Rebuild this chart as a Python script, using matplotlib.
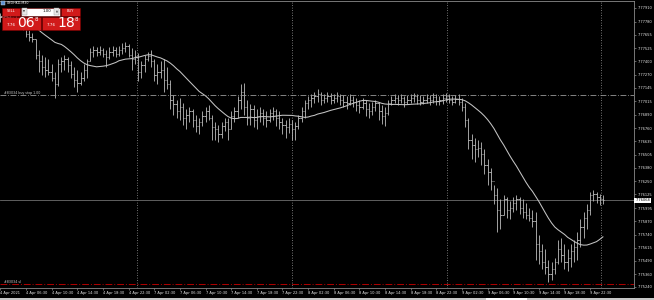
import numpy as np
import pandas as pd
import matplotlib
matplotlib.use("Agg")
import matplotlib.pyplot as plt
from matplotlib.patches import Rectangle

#------------------------------- chart data --------------------------------
symbol = "USDHKD,M30"

highs = [7.7786, 7.7788, 7.7786, 7.7784, 7.7782, 7.7783, 7.7780, 7.7778, 7.7774, 7.7770,
         7.7767, 7.7761, 7.7751, 7.7746, 7.7744, 7.7742, 7.7737, 7.7730, 7.7742, 7.7744,
         7.7746, 7.7744, 7.7740, 7.7734, 7.7732, 7.7730, 7.7737, 7.7742, 7.7753, 7.7755,
         7.7754, 7.7755, 7.7753, 7.7751, 7.7754, 7.7755, 7.7754, 7.7755, 7.7757, 7.7758,
         7.7756, 7.7753, 7.7751, 7.7748, 7.7740, 7.7746, 7.7749, 7.7751, 7.7742, 7.7737,
         7.7740, 7.7742, 7.7734, 7.7722, 7.7708, 7.7703, 7.7705, 7.7700, 7.7694, 7.7696,
         7.7694, 7.7689, 7.7686, 7.7692, 7.7696, 7.7698, 7.7689, 7.7682, 7.7679, 7.7682,
         7.7686, 7.7686, 7.7692, 7.7696, 7.7707, 7.7718, 7.7719, 7.7703, 7.7699, 7.7698,
         7.7694, 7.7696, 7.7694, 7.7692, 7.7694, 7.7696, 7.7694, 7.7692, 7.7686, 7.7684,
         7.7686, 7.7684, 7.7682, 7.7689, 7.7696, 7.7703, 7.7707, 7.7709, 7.7711, 7.7713,
         7.7711, 7.7709, 7.7711, 7.7710, 7.7709, 7.7711, 7.7709, 7.7708, 7.7707, 7.7709,
         7.7707, 7.7705, 7.7703, 7.7705, 7.7703, 7.7700, 7.7701, 7.7703, 7.7701, 7.7698,
         7.7696, 7.7703, 7.7707, 7.7709, 7.7708, 7.7709, 7.7707, 7.7708, 7.7709, 7.7710,
         7.7709, 7.7708, 7.7707, 7.7709, 7.7708, 7.7710, 7.7709, 7.7707, 7.7709, 7.7710,
         7.7709, 7.7707, 7.7708, 7.7709, 7.7705, 7.7700, 7.7686, 7.7670, 7.7667, 7.7665,
         7.7663, 7.7656, 7.7646, 7.7638, 7.7622, 7.7619, 7.7608, 7.7612, 7.7610, 7.7606,
         7.7610, 7.7612, 7.7610, 7.7608, 7.7604, 7.7600, 7.7598, 7.7596, 7.7574, 7.7565,
         7.7560, 7.7550, 7.7548, 7.7552, 7.7569, 7.7571, 7.7565, 7.7560, 7.7565, 7.7569,
         7.7577, 7.7589, 7.7596, 7.7603, 7.7615, 7.7617, 7.7615, 7.7613, 7.7612]

lows = [7.7778, 7.7780, 7.7776, 7.7774, 7.7773, 7.7775, 7.7772, 7.7770, 7.7763, 7.7759,
        7.7758, 7.7742, 7.7730, 7.7727, 7.7725, 7.7727, 7.7721, 7.7705, 7.7716, 7.7730,
        7.7732, 7.7730, 7.7724, 7.7715, 7.7711, 7.7717, 7.7721, 7.7724, 7.7740, 7.7744,
        7.7745, 7.7746, 7.7744, 7.7734, 7.7742, 7.7745, 7.7744, 7.7745, 7.7747, 7.7749,
        7.7744, 7.7732, 7.7737, 7.7721, 7.7724, 7.7730, 7.7740, 7.7734, 7.7721, 7.7718,
        7.7724, 7.7711, 7.7713, 7.7694, 7.7689, 7.7686, 7.7684, 7.7679, 7.7675, 7.7682,
        7.7677, 7.7672, 7.7670, 7.7678, 7.7682, 7.7684, 7.7665, 7.7665, 7.7663, 7.7667,
        7.7673, 7.7665, 7.7675, 7.7682, 7.7686, 7.7694, 7.7689, 7.7679, 7.7679, 7.7677,
        7.7675, 7.7682, 7.7679, 7.7677, 7.7682, 7.7684, 7.7678, 7.7675, 7.7670, 7.7667,
        7.7671, 7.7665, 7.7665, 7.7675, 7.7682, 7.7686, 7.7694, 7.7696, 7.7700, 7.7701,
        7.7698, 7.7700, 7.7701, 7.7699, 7.7700, 7.7701, 7.7698, 7.7696, 7.7694, 7.7698,
        7.7696, 7.7692, 7.7690, 7.7694, 7.7688, 7.7686, 7.7689, 7.7692, 7.7684, 7.7680,
        7.7678, 7.7689, 7.7698, 7.7700, 7.7698, 7.7700, 7.7696, 7.7699, 7.7700, 7.7701,
        7.7699, 7.7698, 7.7699, 7.7700, 7.7698, 7.7700, 7.7698, 7.7698, 7.7699, 7.7701,
        7.7700, 7.7698, 7.7700, 7.7698, 7.7692, 7.7677, 7.7656, 7.7646, 7.7644, 7.7648,
        7.7641, 7.7632, 7.7622, 7.7617, 7.7603, 7.7577, 7.7579, 7.7593, 7.7590, 7.7589,
        7.7596, 7.7598, 7.7594, 7.7590, 7.7589, 7.7587, 7.7581, 7.7550, 7.7546, 7.7541,
        7.7536, 7.7529, 7.7531, 7.7536, 7.7546, 7.7548, 7.7541, 7.7539, 7.7543, 7.7548,
        7.7550, 7.7562, 7.7571, 7.7579, 7.7593, 7.7606, 7.7604, 7.7602, 7.7603]

closes = [7.7782, 7.7785, 7.7780, 7.7778, 7.7780, 7.7777, 7.7776, 7.7773, 7.7766, 7.7763,
          7.7761, 7.7746, 7.7740, 7.7734, 7.7732, 7.7730, 7.7724, 7.7718, 7.7737, 7.7740,
          7.7742, 7.7736, 7.7728, 7.7722, 7.7719, 7.7724, 7.7732, 7.7740, 7.7749, 7.7751,
          7.7749, 7.7751, 7.7747, 7.7744, 7.7749, 7.7751, 7.7747, 7.7751, 7.7753, 7.7755,
          7.7746, 7.7742, 7.7745, 7.7730, 7.7736, 7.7742, 7.7745, 7.7740, 7.7727, 7.7730,
          7.7732, 7.7722, 7.7718, 7.7703, 7.7699, 7.7692, 7.7696, 7.7686, 7.7689, 7.7692,
          7.7684, 7.7678, 7.7682, 7.7688, 7.7692, 7.7686, 7.7677, 7.7675, 7.7670, 7.7678,
          7.7682, 7.7675, 7.7688, 7.7692, 7.7703, 7.7711, 7.7696, 7.7686, 7.7694, 7.7684,
          7.7688, 7.7690, 7.7686, 7.7684, 7.7690, 7.7692, 7.7686, 7.7682, 7.7679, 7.7677,
          7.7680, 7.7675, 7.7678, 7.7686, 7.7692, 7.7700, 7.7703, 7.7705, 7.7707, 7.7709,
          7.7703, 7.7705, 7.7707, 7.7703, 7.7705, 7.7707, 7.7703, 7.7701, 7.7700, 7.7703,
          7.7701, 7.7698, 7.7696, 7.7700, 7.7694, 7.7692, 7.7696, 7.7700, 7.7692, 7.7688,
          7.7690, 7.7700, 7.7703, 7.7705, 7.7703, 7.7705, 7.7701, 7.7703, 7.7705, 7.7707,
          7.7703, 7.7701, 7.7703, 7.7705, 7.7703, 7.7706, 7.7702, 7.7703, 7.7705, 7.7707,
          7.7703, 7.7701, 7.7704, 7.7701, 7.7696, 7.7684, 7.7665, 7.7660, 7.7656, 7.7657,
          7.7651, 7.7641, 7.7634, 7.7625, 7.7612, 7.7598, 7.7593, 7.7608, 7.7598, 7.7600,
          7.7604, 7.7608, 7.7600, 7.7596, 7.7593, 7.7590, 7.7587, 7.7565, 7.7558, 7.7548,
          7.7543, 7.7536, 7.7541, 7.7548, 7.7560, 7.7555, 7.7548, 7.7552, 7.7558, 7.7562,
          7.7569, 7.7581, 7.7590, 7.7598, 7.7612, 7.7613, 7.7610, 7.7608, 7.76068]

price_ticks = [7.75240, 7.75360, 7.75490, 7.75615, 7.75740, 7.75870, 7.75995, 7.76125,
               7.76250, 7.76380, 7.76505, 7.76635, 7.76760, 7.76890, 7.77015, 7.77145,
               7.77270, 7.77400, 7.77525, 7.77655, 7.77780, 7.77910]

time_labels = ["4 Apr 2021", "4 Apr 06:30", "4 Apr 10:30", "4 Apr 14:30", "4 Apr 18:30",
               "4 Apr 22:30", "7 Apr 02:30", "7 Apr 06:30", "7 Apr 10:30", "7 Apr 14:30",
               "7 Apr 18:30", "7 Apr 22:30", "8 Apr 02:30", "8 Apr 06:30", "8 Apr 10:30",
               "8 Apr 14:30", "8 Apr 18:30", "8 Apr 22:30", "9 Apr 02:30", "9 Apr 06:30",
               "9 Apr 10:30", "9 Apr 14:30", "9 Apr 18:30", "9 Apr 22:30"]
bars_per_label = 8

bid = 7.76068
ask = 7.76188
buy_stop = 7.7708
stop_loss = 7.7527
ma_period = 20
grid_bars = [42.6, 91.0, 139.4, 187.4]

#------------------------------- styling -----------------------------------
BAR_C = "#bcbcbc"
MA_C = "#c4c4c4"
AX_C = "#8a8a8a"
RED = "#d11a1a"
FS = 2.6

idx = np.arange(len(closes))
opens = np.r_[closes[0], closes[:-1]]   # fx bars open at previous close
ma = pd.Series(closes).rolling(ma_period, min_periods=1).mean()

fig = plt.figure(figsize=(6.54, 3.0), dpi=100, facecolor="black")
ax = fig.add_axes([0, 12 / 300, 634 / 654, 287.5 / 300])
ax.set_facecolor("black")

ax.vlines(idx, lows, highs, color=BAR_C, lw=0.6)
ax.hlines(opens, idx - 0.4, idx, color=BAR_C, lw=0.6)
ax.hlines(closes, idx, idx + 0.4, color=BAR_C, lw=0.6)
ax.plot(idx, ma, color=MA_C, lw=0.75)

for g in grid_bars:
    ax.axvline(g, color="#9a9a9a", lw=0.6, ls=(0, (1, 2)), zorder=0)

ax.axhline(bid, color="#6e6e6e", lw=0.6, zorder=0)
ax.axhline(buy_stop, color="#9a9a9a", lw=0.6, ls=(0, (7, 2, 1, 2)))
ax.axhline(stop_loss, color="#b00000", lw=0.7, ls=(0, (7, 2, 1, 2)))
ax.text(1, buy_stop, "#83034 buy stop 1.00", color="#d0d0d0", fontsize=FS - 0.3,
        va="bottom", ha="left")
ax.text(1, stop_loss, "#83034 sl", color="#d0d0d0", fontsize=FS - 0.3,
        va="bottom", ha="left")

ax.set_xlim(-0.125, 197.7)
ax.set_ylim(7.75230, 7.77981)

ax.yaxis.tick_right()
ax.set_yticks(price_ticks)
ax.set_yticklabels([f"{v:.5f}" for v in price_ticks])
ax.set_xticks(idx[::bars_per_label][:len(time_labels)])
ax.set_xticklabels(time_labels)
for lab in ax.get_xticklabels():
    lab.set_ha("left")
ax.tick_params(axis="both", colors=AX_C, labelcolor="#e6e6e6", labelsize=FS,
               length=1.5, width=0.5, pad=1)

for side in ("top", "right", "bottom"):
    ax.spines[side].set_color(AX_C)
    ax.spines[side].set_linewidth(0.6)
ax.spines["left"].set_visible(False)

ax.text(1.002, bid, f"{bid:.5f}", transform=ax.get_yaxis_transform(), fontsize=FS,
        color="black", va="center", ha="left",
        bbox=dict(boxstyle="square,pad=0.25", fc="white", ec="none"))

#------------------------------- trade panel -------------------------------
ov = fig.add_axes([0, 0, 1, 1], facecolor="none")
ov.set_xlim(0, 654)
ov.set_ylim(300, 0)
ov.axis("off")

ov.add_patch(Rectangle((0.8, 0.8), 4, 4, fc="#5a8fd0", ec="#dddddd", lw=0.3))
ov.text(6.5, 2.9, symbol, color="white", fontsize=2.3, va="center", ha="left")

ov.add_patch(Rectangle((2, 7.5), 18, 8, fc=RED, ec="#7a0000", lw=0.4))
ov.text(11, 11.5, "SELL", color="white", fontsize=2.6, va="center", ha="center")
ov.add_patch(Rectangle((21, 7.5), 39, 8, fc="white", ec="#7a0000", lw=0.4))
ov.add_patch(Rectangle((21.6, 8.2), 5, 6.6, fc="#e8e8e8", ec="#999999", lw=0.3))
ov.add_patch(Rectangle((54.4, 8.2), 5, 6.6, fc="#e8e8e8", ec="#999999", lw=0.3))
ov.text(24.1, 11.5, "▼", color="#333333", fontsize=1.8, va="center", ha="center")
ov.text(56.9, 11.5, "▲", color="#333333", fontsize=1.8, va="center", ha="center")
ov.text(51, 11.5, "1.00", color="black", fontsize=2.8, va="center", ha="right")
ov.add_patch(Rectangle((61, 7.5), 18.5, 8, fc=RED, ec="#7a0000", lw=0.4))
ov.text(70.2, 11.5, "BUY", color="white", fontsize=2.6, va="center", ha="center")

for x0, w, price in ((2, 39, bid), (42, 37.5, ask)):
    s = f"{price:.5f}"
    ov.add_patch(Rectangle((x0, 16.5), w, 13, fc=RED, ec="#7a0000", lw=0.4))
    ov.text(x0 + 5, 25, s[:4], color="white", fontsize=3, va="center", ha="left")
    ov.text(x0 + 15, 23.2, s[4:6], color="white", fontsize=10, va="center", ha="left")
    ov.text(x0 + 33, 19.8, s[6], color="white", fontsize=4, va="center", ha="left")

# bottom tab strip
ov.add_patch(Rectangle((0, 298), 654, 2, fc="#c8c8c8", ec="none"))
ov.add_patch(Rectangle((486, 298), 41, 2, fc="white", ec="none"))

fig.savefig("out.png", dpi=100, facecolor="black")
